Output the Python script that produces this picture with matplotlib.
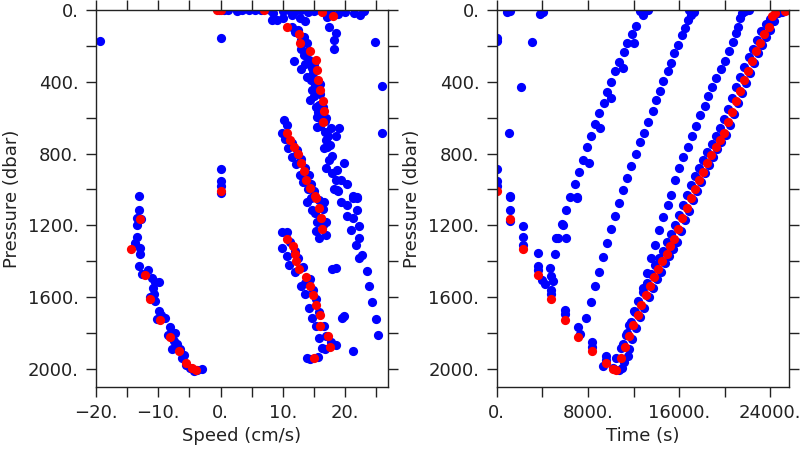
import matplotlib
matplotlib.use("Agg")
import matplotlib.pyplot as plt
from matplotlib.ticker import MultipleLocator, FuncFormatter

# ---- left panel: speed vs pressure ----
spd_blue = [
    -0.3, 0.5, 1.2, 2.6, 3.5, 4.5, 5.5, 6.5, 8.0, 8.5, 9.1, 8.3, 10.1, 10.0, 11.0, 12.0, 13.0, 14.0,
    15.0, 16.0, 17.1, 17.4, 18.5, 18.2, 18.2, 17.6, 18.8, 20.0, 21.4, 22.4, 23.0, 11.5, 12.8, 13.5,
    12.0, 13.4, 13.9, 13.4, 14.7, 13.9, 14.7, 15.3, 15.5, 16.05, 16.9, 16.6, 17.4, 17.9, 18.5, 18.8,
    11.8, 13.0, 11.5, 12.5, 13.0, 12.9, 14.0, 14.2, 15.0, 14.5, 15.2, 15.0, 16.0, 15.8, 16.5, 16.0,
    17.0, 15.5, 16.8, 17.2, 13.6, 14.8, 15.9, 14.3, 15.6, 16.8, 17.6, 17.0, 18.2,
    17.7, 19.0, 18.5, 17.1, 17.9, 19.9, 18.75, 19.3, 20.25, 18.75, 21.2, 22.0, 19.3, 21.2, 22.0,
    20.35, 22.0, 20.35, 21.2, 22.2, 20.9, 22.2, 21.7, 22.8, 22.2, 23.6, 23.8, 24.4, 24.9, 25.3,
    21.2, 17.9, 18.5, 19.55, 19.9,
    10.2, 10.7, 9.9, 10.3, 11.5, 10.8, 12.3, 11.5, 13.0, 12.2, 13.5, 12.8, 14.2, 13.3, 14.6, 14.0,
    15.0, 14.5, 15.8, 13.9, 14.7, 16.6, 15.2, 16.5, 15.5, 16.9, 15.8, 16.9, 15.4, 16.5,
    9.9, 10.7, 9.9, 10.7, 11.2, 12.0, 11.0, 12.5, 12.0, 13.2, 12.85, 13.5, 14.4, 13.6, 14.9, 14.2,
    15.3, 14.7, 15.8, 15.3, 16.6, 15.8, 17.0, 16.3, 18.5, 17.8, 16.8, 13.9, 14.4, 15.6,
    -13.15, -13.15, -13.4, -12.7, -13.4, -13.4, -13.8, -12.9, -13.0, -13.15, -12.6, -11.7, -11.0,
    -10.5, -9.9, -10.9, -10.7, -11.3, -10.5, -9.9, -10.2, -8.9, -9.5, -8.05, -8.5, -7.25, -7.5,
    -7.8, -6.45, -7.0, -6.2, -5.8, -4.85, -3.8, -2.95, -5.5, -4.3,
    -19.3, 0.0, 0.0, 0.0, 0.0, 0.0, 24.8, 26.0, 25.9,
]
pres_blue_l = [
    0, 2, 0, 4, 0, 2, 0, 3, 2, 19, 56, 59, 45, 5, 0, 8, 3, 10,
    5, 2, 37, 93, 130, 167, 219, 8, 25, 9, 19, 28, 5, 30, 45, 60,
    121, 149, 185, 250, 325, 371, 445, 538, 594, 649, 723, 770, 835, 909, 946, 1011,
    284, 330, 95, 110, 170, 215, 230, 280, 300, 390, 420, 480, 470, 530, 540, 600,
    600, 650, 680, 700, 300, 350, 410, 500, 570, 620, 750, 880, 1000,
    658, 658, 705, 761, 816, 850, 890, 946, 970, 1002, 1039, 1042, 1067, 1048, 1048,
    1085, 1113, 1150, 1159, 1206, 1224, 1271, 1308, 1363, 1382, 1456, 1540, 1627, 1721, 1813,
    1901, 1441, 1438, 1716, 1707,
    612, 640, 686, 720, 740, 770, 780, 820, 830, 860, 880, 920, 920, 960, 970, 1000,
    1010, 1050, 1060, 1067, 1113, 1067, 1130, 1110, 1180, 1180, 1271, 1252, 1230, 1200,
    1239, 1239, 1326, 1373, 1290, 1340, 1420, 1380, 1460, 1430, 1540, 1520, 1500, 1580, 1560, 1660,
    1610, 1716, 1680, 1760, 1762, 1827, 1818, 1883, 1868, 1850, 1890, 1938, 1945, 1935,
    1039, 1113, 1159, 1165, 1196, 1267, 1298, 1326, 1360, 1425, 1471, 1447, 1493,
    1515, 1515, 1549, 1582, 1600, 1620, 1675, 1720, 1716, 1700, 1768, 1809, 1800, 1846,
    1887, 1887, 1860, 1938, 1920, 1994, 2007, 1998, 1980, 2010,
    171, 154, 885, 955, 983, 1020, 176, 425, 686,
]
spd_red = [
    -13.0, -14.4, -12.2, -11.3, -9.8, -8.05, -6.7, -5.5, -4.6, -3.9, 0.0, -0.6, 0.0, 6.95,
    10.7, 12.6, 12.7, 14.45, 15.4, 15.5, 15.6, 16.05, 16.4, 16.7, 16.5, 16.3, 18.0,
    10.7, 11.1, 11.8, 12.4, 13.0, 13.4, 13.8, 14.45, 15.25, 15.4, 15.8, 16.2, 16.3,
    10.7, 11.6, 11.9, 12.15, 12.6, 13.65, 14.3, 14.8, 15.3, 15.9, 16.05, 17.2, 17.55, 15.0,
]
pres_red_l = [
    1163, 1330, 1479, 1610, 1725, 1822, 1901, 1966, 1994, 2005, 1007, 0, 0, 0,
    96, 135, 182, 228, 280, 336, 391, 447, 505, 564, 625, 9, 33,
    683, 723, 762, 803, 850, 898, 946, 994, 1039, 1048, 1104, 1159, 1219,
    1276, 1317, 1358, 1400, 1445, 1490, 1536, 1590, 1643, 1697, 1759, 1816, 1879, 1938,
]

# ---- right panel: time vs pressure ----
time_blue = [
    1161, 1161, 1161, 2322, 2322, 2322, 3579, 3579, 3579, 3929, 4217, 4653, 4741, 4942, 4741, 4741,
    5963, 5963, 7124, 7272, 8346, 8346, 9542, 9542, 9306, 10179, 10764, 11000, 10476,
    0, 0, 3055, 2095, 1074, 0, 0, 0, 1161, 873, 1161, 3780, 4068,
    5090, 5378, 5238, 6111, 5762, 5815, 6111, 6399, 7071, 7036, 6836, 7211, 7560, 8084, 7909,
    8293, 8582, 9018, 8957, 9367, 9690, 10040, 10040, 10415, 11052, 10764, 11140, 11402, 12074,
    11873, 12222, 12798, 12600, 13000, 13300,
    7857, 8232, 8582, 8957, 9306, 9655, 10040, 10415, 10764, 11113, 11437, 11786, 12222, 12571,
    12946, 13235, 13671, 13968, 14317, 14605, 14981, 15278, 15566, 15941, 16290, 16526, 16814,
    17024, 17312, 16900,
    10913, 11349, 11637, 12074, 12798, 13148, 13532, 13907, 14256, 14605, 14981, 15278, 15653,
    16002, 16378, 16788, 17111, 17513, 17836, 18245, 18560, 18910, 19259, 19643, 20018, 20367,
    20717, 20952, 21153, 21301, 21528, 21764, 22113,
    11200, 11500, 11050, 11600, 11400, 11900, 11750, 12250, 12100, 12600, 12400, 12950, 12800,
    13350, 13150, 13700, 13500, 14050, 13850, 14400, 14200, 14750, 14550, 15100, 14950, 15450,
    15300, 15800, 15600, 16150, 15950, 16500, 16300, 16900, 16700, 17250, 17050, 17600, 17400,
    17950, 17750, 18300, 18100, 18650, 18450, 19000, 18850, 19350, 19200, 19700, 19550, 20100,
    19950, 20450, 20300, 20800, 20650, 21150, 21000, 21500, 21350, 21850, 21700, 22200, 22100,
    22550, 22450, 22900, 22850, 23300, 23200, 23650, 23600, 24000, 23950, 24300, 24700, 25000,
]
pres_blue_r = [
    1044, 1113, 1177, 1202, 1267, 1308, 1354, 1425, 1447, 1503, 1527, 1438, 1480, 1512, 1558, 1582,
    1670, 1696, 1768, 1805, 1851, 1879, 1929, 1951, 1985, 1994, 2003, 1995, 1938,
    158, 171, 176, 427, 686, 887, 955, 983, 1039, 9, 6, 22, 9,
    1359, 1271, 1270, 1270, 1193, 1196, 1113, 1044, 1048, 1042, 968, 900, 835, 850, 766,
    705, 634, 658, 575, 516, 455, 488, 399, 343, 325, 288, 234, 182, 182,
    135, 89, 28, 5, 2, 0,
    1716, 1627, 1540, 1460, 1376, 1298, 1220, 1150, 1076, 1002, 937, 868, 803, 738,
    683, 622, 562, 501, 449, 395, 343, 293, 241, 195, 139, 102, 59,
    28, 9, 0,
    1883, 1809, 1753, 1679, 1549, 1465, 1382, 1308, 1224, 1156, 1085, 1030, 946,
    881, 820, 761, 701, 646, 588, 534, 479, 427, 377, 330, 284, 228,
    176, 130, 93, 46, 19, 6, 0,
    1960, 1925, 1860, 1890, 1800, 1830, 1740, 1770, 1680, 1710, 1620, 1660, 1570,
    1600, 1520, 1550, 1470, 1500, 1420, 1460, 1380, 1410, 1340, 1370, 1290, 1330,
    1250, 1290, 1200, 1230, 1140, 1170, 1085, 1120, 1030, 1060, 975, 1010, 925,
    960, 880, 910, 835, 865, 790, 820, 745, 775, 700, 735, 660, 695,
    610, 640, 550, 580, 490, 520, 430, 460, 375, 405, 320, 350, 265,
    295, 215, 240, 165, 195, 120, 150, 80, 110, 50, 60, 20, 10,
]
time_red = [
    1161, 2322, 3579, 4741, 5963, 7124, 8346, 9542, 10179, 10476, 0,
    10913, 11288, 11637, 11986, 12362, 12659, 13095, 13470, 13793, 14169, 14492, 14893, 15242,
    15592, 15941, 16290, 16675, 17024, 17399, 17748, 18097, 18473, 18822, 19206, 19555, 19931,
    20280, 20603, 20952, 21301, 21677, 22026, 22402, 22751, 23135, 23484, 23860, 24147, 24444,
    25256, 25550,
]
pres_red_r = [
    1163, 1332, 1479, 1610, 1725, 1824, 1901, 1966, 1999, 2003, 1007,
    1938, 1877, 1816, 1757, 1697, 1643, 1590, 1538, 1490, 1445, 1400, 1360, 1317,
    1276, 1219, 1159, 1104, 1048, 996, 946, 900, 853, 807, 761, 723, 683,
    627, 566, 505, 449, 393, 338, 282, 228, 182, 135, 96, 33, 15,
    4, 0,
]


def dot_label(step):
    def fmt(v, pos):
        if abs(v / step - round(v / step)) > 1e-6:
            return ""
        s = f"{v:.0f}."
        return s.replace("-", "\u2212")
    return FuncFormatter(fmt)


def style_axis(ax, xstep, xlabstep):
    ax.set_ylim(2100, 0)
    ax.yaxis.set_major_locator(MultipleLocator(200))
    ax.yaxis.set_major_formatter(dot_label(400))
    ax.xaxis.set_major_locator(MultipleLocator(xstep))
    ax.xaxis.set_major_formatter(dot_label(xlabstep))
    ax.tick_params(direction="out", length=7.5, width=1.0, labelsize=13,
                   top=True, right=True, pad=5, colors="#222222")
    for sp in ax.spines.values():
        sp.set_linewidth(1.0)
        sp.set_color("#222222")
    ax.set_ylabel("Pressure (dbar)", fontsize=13, labelpad=5, color="#222222")


fig = plt.figure(figsize=(8, 4.5), dpi=100)
ax1 = fig.add_axes([0.12, 0.14, 0.365, 0.838])
ax2 = fig.add_axes([0.621, 0.14, 0.365, 0.838])

ax1.scatter(spd_blue, pres_blue_l, s=44, c="#0000ff", linewidths=0)
ax1.scatter(spd_red, pres_red_l, s=44, c="#ff0000", linewidths=0)
ax1.set_xlim(-20, 26.9)
style_axis(ax1, 5, 10)
ax1.set_xlabel("Speed (cm/s)", fontsize=13, labelpad=3, color="#222222")

ax2.scatter(time_blue, pres_blue_r, s=44, c="#0000ff", linewidths=0)
ax2.scatter(time_red, pres_red_r, s=44, c="#ff0000", linewidths=0)
ax2.set_xlim(0, 25625)
style_axis(ax2, 4000, 8000)
ax2.set_xlabel("Time (s)", fontsize=13, labelpad=3, color="#222222")

fig.savefig("out.png", dpi=100)
